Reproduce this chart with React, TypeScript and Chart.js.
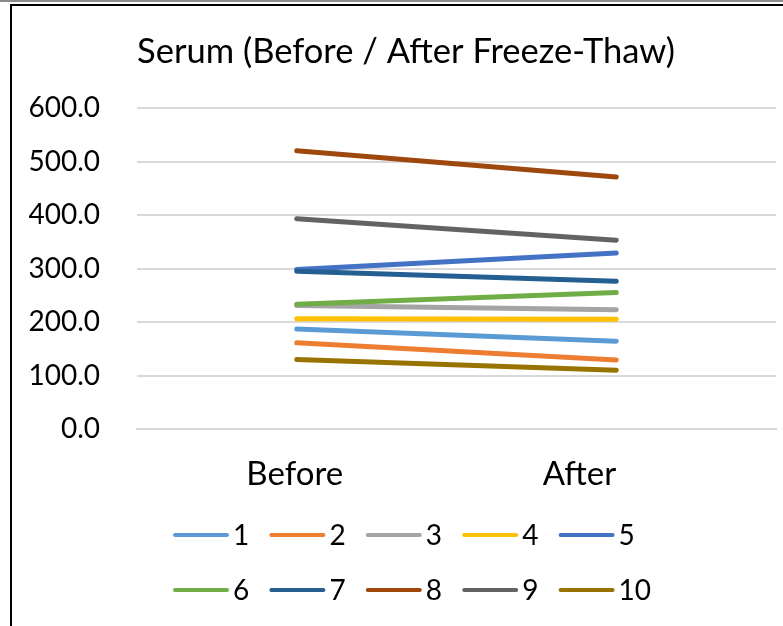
import React, { useEffect, useRef } from "react";
import { Chart, registerables } from "chart.js";

Chart.register(...registerables);

const categories = ["Before", "After"];
const seriesLabels = ["1", "2", "3", "4", "5", "6", "7", "8", "9", "10"];
const beforeValues = [187, 161, 231, 206, 298, 233, 295, 520, 393, 130];
const afterValues = [164, 129, 223, 205, 329, 255, 276, 471, 353, 110];
const seriesColors = [
  "#5B9BD5",
  "#ED7D31",
  "#A5A5A5",
  "#FFC000",
  "#4472C4",
  "#70AD47",
  "#255E91",
  "#9E480E",
  "#636363",
  "#997300",
];
const yTicks = { min: 0, max: 600, step: 100 };
const chartTitle = "Serum (Before / After Freeze-Thaw)";

const FONT = "Lato, 'Open Sans', sans-serif";

const customTitle = {
  id: "customTitle",
  afterDraw(chart: any, _args: any, opts: any) {
    const ctx = chart.ctx;
    ctx.save();
    ctx.font = `${opts.fontSize}px ${FONT}`;
    ctx.textBaseline = "middle";
    ctx.textAlign = "center";
    ctx.fillStyle = "#000";
    ctx.fillText(opts.text, opts.x, opts.y);
    ctx.restore();
  },
};

// category labels drawn at the x scale's own tick positions
const categoryLabels = {
  id: "categoryLabels",
  afterDraw(chart: any, _args: any, opts: any) {
    const ctx = chart.ctx;
    const xs = chart.scales.x;
    ctx.save();
    ctx.font = `${opts.fontSize}px ${FONT}`;
    ctx.textBaseline = "middle";
    ctx.fillStyle = "#000";
    (chart.data.labels as string[]).forEach((lab: string, i: number) => {
      const x = xs.getPixelForTick(i);
      ctx.textAlign = opts.align[i] || "center";
      ctx.fillText(lab, x + (opts.dx[i] || 0), opts.y);
    });
    ctx.restore();
  },
};

const customLegend = {
  id: "customLegend",
  afterDraw(chart: any, _args: any, opts: any) {
    const ctx = chart.ctx;
    ctx.save();
    ctx.font = `${opts.fontSize}px ${FONT}`;
    ctx.textBaseline = "middle";
    ctx.textAlign = "left";
    chart.data.datasets.forEach((ds: any, i: number) => {
      const row = Math.floor(i / opts.perRow);
      const col = i % opts.perRow;
      const x = opts.startX + col * opts.colStep;
      const y = opts.startY + row * opts.rowStep;
      ctx.strokeStyle = ds.borderColor;
      ctx.lineWidth = opts.lineWidth;
      ctx.lineCap = "round";
      ctx.beginPath();
      ctx.moveTo(x + 2, y);
      ctx.lineTo(x + opts.lineLen - 2, y);
      ctx.stroke();
      ctx.fillStyle = "#000";
      ctx.fillText(ds.label, x + opts.lineLen + opts.gap, y + 1);
    });
    ctx.restore();
  },
};

export default function App() {
  const ref = useRef<HTMLCanvasElement | null>(null);

  useEffect(() => {
    if (!ref.current) return;
    const datasets = seriesLabels.map((label, i) => ({
      label,
      data: [beforeValues[i], afterValues[i]],
      borderColor: seriesColors[i],
      backgroundColor: seriesColors[i],
      borderWidth: 5,
      borderCapStyle: "round" as const,
      pointRadius: 0,
      pointHoverRadius: 0,
      fill: false,
      tension: 0,
      order: seriesLabels.length - i,
    }));
    const chart = new Chart(ref.current, {
      type: "line",
      data: { labels: categories, datasets },
      plugins: [customTitle, categoryLabels, customLegend],
      options: {
        animation: false,
        responsive: false,
        maintainAspectRatio: false,
        layout: { padding: { left: 0, right: 7, top: 108, bottom: 137 } },
        plugins: {
          legend: { display: false },
          tooltip: { enabled: false },
          title: { display: false },
          customTitle: {
            text: chartTitle,
            fontSize: 34.5,
            x: 406,
            y: 52,
          },
          categoryLabels: {
            fontSize: 33,
            y: 474,
            align: ["center", "right"],
            dx: [-2, 0],
          },
          customLegend: {
            fontSize: 28,
            perRow: 5,
            startX: 173,
            startY: 535,
            colStep: 96.4,
            rowStep: 55,
            lineLen: 56,
            lineWidth: 4,
            gap: 4,
          },
        } as any,
        scales: {
          x: {
            type: "category",
            offset: true,
            grid: { display: false, drawTicks: false },
            border: { display: true, color: "#d9d9d9", width: 2 },
            ticks: { display: false },
            afterFit: (s: any) => {
              s.height = 60;
            },
          },
          y: {
            min: yTicks.min,
            max: yTicks.max,
            grid: { color: "#d9d9d9", lineWidth: 2, drawTicks: false },
            border: { display: false },
            ticks: {
              stepSize: yTicks.step,
              color: "#000",
              font: { family: FONT, size: 28 },
              padding: 37,
              callback: (v: any) => Number(v).toFixed(1),
            },
            afterFit: (s: any) => {
              s.width = 137;
            },
          },
        },
      },
    });
    return () => chart.destroy();
  }, []);

  return (
    <div
      style={{
        position: "fixed",
        left: 0,
        top: 0,
        width: 783,
        height: 626,
        background: "#fff",
        overflow: "hidden",
      }}
    >
      <canvas
        ref={ref}
        width={783}
        height={626}
        style={{ position: "absolute", left: 0, top: 0, width: 783, height: 626 }}
      />
      <div
        style={{
          position: "absolute",
          left: 0,
          top: 0,
          width: 783,
          height: 2,
          background: "#8c8c8c",
        }}
      />
      <div
        style={{
          position: "absolute",
          left: 10,
          top: 4,
          width: 800,
          height: 700,
          borderTop: "2px solid #000",
          borderLeft: "2px solid #000",
          boxSizing: "border-box",
        }}
      />
    </div>
  );
}
